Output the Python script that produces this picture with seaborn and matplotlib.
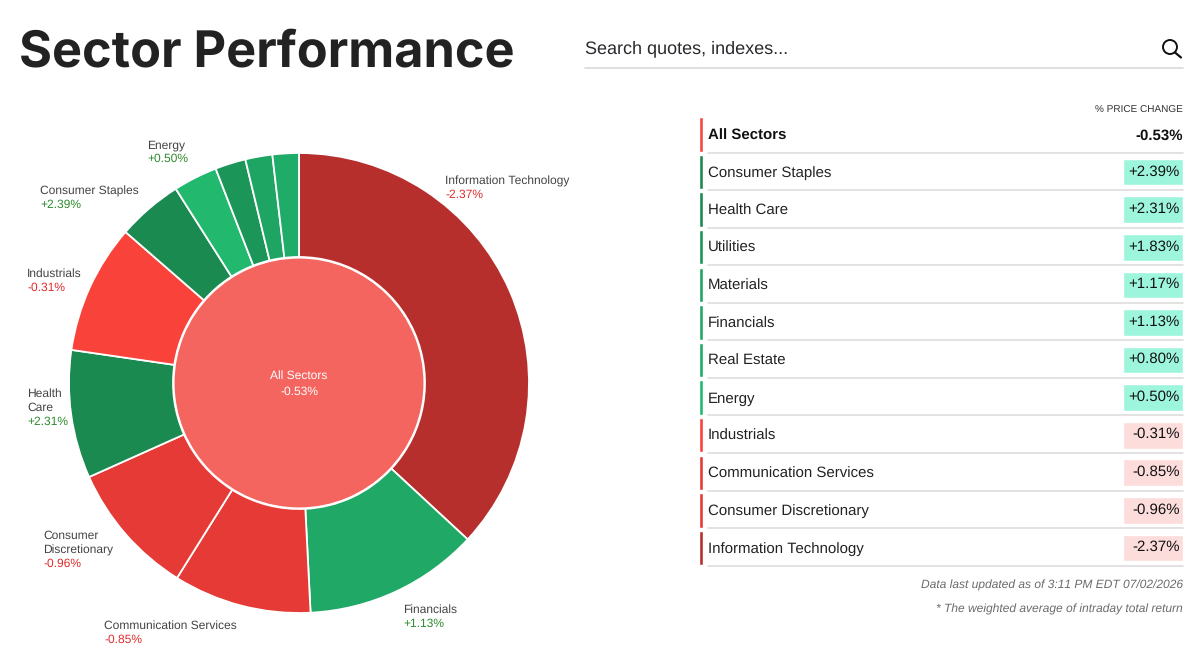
import pandas as pd
import seaborn as sns, matplotlib.pyplot as plt
from matplotlib.patches import Circle

W, H = 1200, 653

# donut, clockwise from the top
ring_names = ['Information Technology', 'Financials', 'Communication Services', 'Consumer Discretionary',
              'Health Care', 'Industrials', 'Consumer Staples', 'Energy', 'Utilities', 'Materials', 'Real Estate']
ring_weights = [36.9, 12.3, 9.7, 9.4, 9.0, 9.1, 4.6, 3.1, 2.15, 1.9, 1.85]
ring_colors = ['#B72F2D', '#1FA866', '#E53A35', '#E53A35', '#1A8A50', '#F9423A', '#1A8A50',
               '#22B96F', '#1C9558', '#1FA563', '#1FAB68']
center_color = '#F4655F'

# table, top to bottom
table_names = ['All Sectors', 'Consumer Staples', 'Health Care', 'Utilities', 'Materials', 'Financials',
               'Real Estate', 'Energy', 'Industrials', 'Communication Services', 'Consumer Discretionary',
               'Information Technology']
table_values = [-0.53, 2.39, 2.31, 1.83, 1.17, 1.13, 0.80, 0.50, -0.31, -0.85, -0.96, -2.37]
table_colors = ['#F4473F', '#1A8A50', '#1A8A50', '#1C9558', '#1FA563', '#1FA866', '#1FAB68', '#22B96F',
                '#F9423A', '#E53A35', '#E53A35', '#B72F2D']

sns.set_theme(style='white')
plt.rcParams['font.family'] = ['Liberation Sans', 'DejaVu Sans']
plt.rcParams['text.hinting'] = 'none'
plt.rcParams['text.hinting_factor'] = 1

fig = plt.figure(figsize=(12, 6.53), dpi=100, facecolor='white')


def px_axes(x0, y0, x1, y1):
    # axes from pixel box, y measured from the top
    return fig.add_axes([x0 / W, 1 - y1 / H, (x1 - x0) / W, (y1 - y0) / H])


# donut
cx, cy, R = 299, 383, 230
ax = px_axes(cx - 240, cy - 240, cx + 240, cy + 240)
ax.pie(ring_weights, colors=ring_colors, radius=R, startangle=90, counterclock=False,
       wedgeprops=dict(width=R - 126, edgecolor='white', linewidth=1.3))
ax.pie([1], colors=[center_color], radius=125, wedgeprops=dict(edgecolor='white', linewidth=0.8))
ax.set_xlim(-240, 240)
ax.set_ylim(-240, 240)
ax.set_aspect('equal')
ax.axis('off')

# table stripes and value chips, one row per band
df = pd.DataFrame({'sector': table_names, 'value': table_values, 'stripe': 1.0,
                   'chip': [0.0] + [1.0] * 11})
top, bottom = 134.5 - 18.8, 548 + 18.8
ax_s = px_axes(698.5, top, 703, bottom)
sns.barplot(data=df, y='sector', x='stripe', hue='sector', palette=table_colors, width=0.915,
            saturation=1, dodge=False, legend=False, ax=ax_s)
ax_s.set_xlim(0, 1)
ax_s.axis('off')

chip_colors = ['#9DF5DC' if v > 0 else '#FDDCDC' for v in table_values]
ax_c = px_axes(1123, top, 1183, bottom)
sns.barplot(data=df, y='sector', x='chip', hue='sector', palette=chip_colors, width=0.71,
            saturation=1, dodge=False, legend=False, ax=ax_c)
ax_c.set_xlim(0, 1)
ax_c.axis('off')

# page overlay in pixels
ov = fig.add_axes([0, 0, 1, 1], zorder=5)
ov.set_xlim(0, W)
ov.set_ylim(H, 0)
ov.axis('off')

ov.text(19, 66, 'Sector Performance', fontsize=36.3, fontweight='bold', color='#222222',
        family=['Inter', 'DejaVu Sans'], va='baseline')
ov.text(585, 49, 'Search quotes, indexes...', fontsize=13.3, color='#2a2a2e', va='center')
ov.plot([585, 1183], [68, 68], color='#d9d9d9', lw=1.2)
ov.add_patch(Circle((1170, 47), 7, fill=False, ec='#111111', lw=1.4))
ov.plot([1175, 1181], [52.5, 57.5], color='#111111', lw=1.6)

# donut labels: (x, top line y, text lines)
label_pos = {'Information Technology': (445, 181, ['Information Technology']),
             'Financials': (403, 610, ['Financials']),
             'Communication Services': (104, 626, ['Communication Services']),
             'Consumer Discretionary': (43, 536, ['Consumer', 'Discretionary']),
             'Health Care': (27, 394, ['Health', 'Care']),
             'Industrials': (27, 274, ['Industrials']),
             'Consumer Staples': (40, 191, ['Consumer Staples']),
             'Energy': (147, 145, ['Energy'])}
value_of = dict(zip(table_names, table_values))
for name, (x, y, lines) in label_pos.items():
    for i, line in enumerate(lines):
        ov.text(x, y + i * 14, line, fontsize=8.75, color='#444444', va='center')
    v = value_of[name]
    ov.text(x, y + len(lines) * 14, f'{v:+.2f}%', fontsize=8.75,
            color='#2E8B2E' if v > 0 else '#E02B2B', va='center')

ov.text(cx, 376, 'All Sectors', fontsize=8.75, color='white', ha='center', va='center')
ov.text(cx, 392, f'{table_values[0]:+.2f}%', fontsize=8.75, color='white', ha='center', va='center')

# table text
ov.text(1183, 110.5, '% PRICE CHANGE', fontsize=7.4, color='#333333', ha='right', va='center')
for i, (name, v) in enumerate(zip(table_names, table_values)):
    y = 134.8 + i * 37.55
    first = i == 0
    ov.text(708, y + (1.5 if first else 1), name, fontsize=10.75, color='#111111' if first else '#222222',
            fontweight='bold' if first else 'normal', va='center')
    ov.text(1183 if first else 1180, y + (1.5 if first else -0.8), f'{v:+.2f}%',
            fontsize=11 if first else 10.7, color='#111111', fontweight='bold' if first else 'normal',
            ha='right', va='center')
    ov.plot([708, 1183], [y + 17.8, y + 17.8], color='#dddddd', lw=1.2)

ov.text(1183, 585.5, 'Data last updated as of 3:11 PM EDT 07/02/2026', fontsize=8.82, style='italic',
        color='#6b6b6b', ha='right', va='center')
ov.text(1183, 609.5, '* The weighted average of intraday total return', fontsize=8.85, style='italic',
        color='#6b6b6b', ha='right', va='center')

fig.savefig('out.png', dpi=100)
